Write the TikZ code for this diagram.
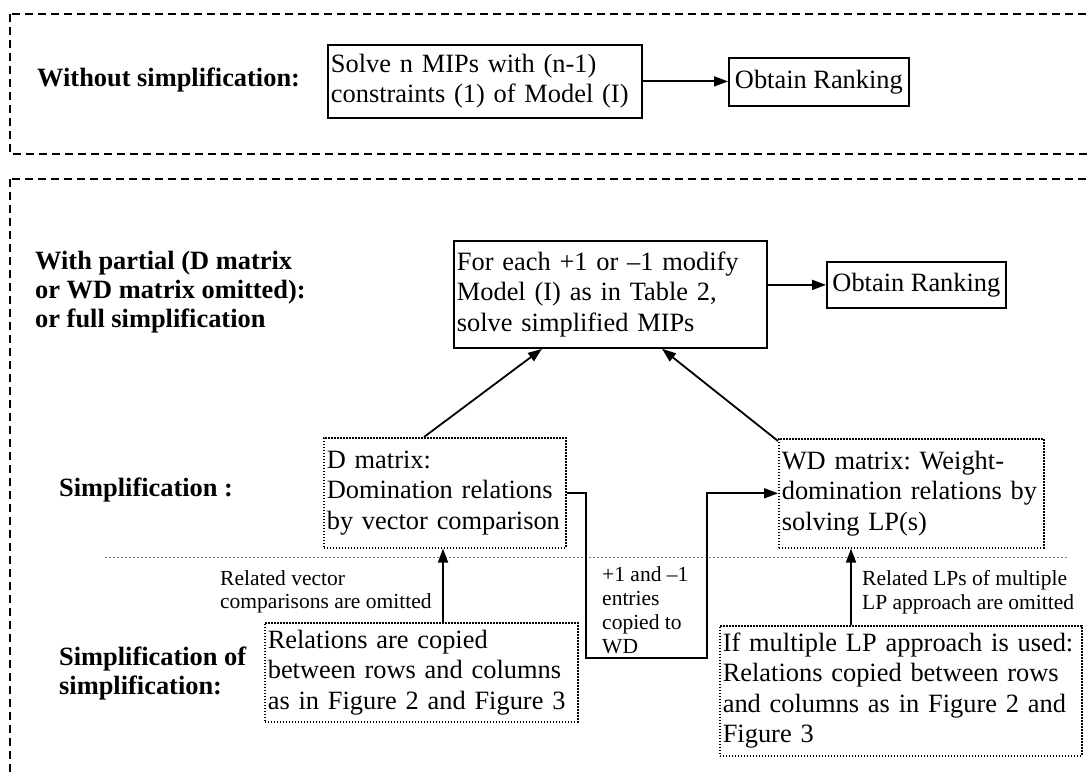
\documentclass[tikz,border=0pt]{standalone}
\usepackage{fontspec}
\setmainfont{Liberation Serif}
\usetikzlibrary{arrows.meta,calc}
\hyphenpenalty=10000
\frenchspacing
\begin{document}
\begin{tikzpicture}[x=1pt,y=-1pt,
  arr/.style={line width=1.8pt,-{Triangle[length=14pt,width=10pt]}},
  solidbox/.style={draw,line width=1.8pt,anchor=north west,inner xsep=3pt,inner ysep=0pt,align=left,font=\fontsize{26.4}{30.5}\selectfont},
  dotbox/.style={solidbox,line width=1.6pt,dash pattern=on 1.4pt off 1.6pt},
  lbl/.style={anchor=west,inner sep=0pt,align=left,font=\bfseries\fontsize{26.4}{29}\selectfont},
  small/.style={anchor=west,inner sep=0pt,align=left,font=\fontsize{21.5}{23.5}\selectfont},
  outer/.style={line width=1.4pt,dash pattern=on 8pt off 5pt},
  sep/.style={line width=0.8pt,gray,dash pattern=on 2pt off 2pt}
]
\useasboundingbox (0,0) rectangle (1088,776);
\begin{scope}
  \clip (0,0) rectangle (1088,776);
  \draw[outer] (10,14) rectangle (1110,154);
  \draw[outer] (10,179) rectangle (1110,800);
\end{scope}

% section 1
\node[lbl] (l1) at (37,80) {Without simplification:};
\node[solidbox,text width=308pt,minimum height=73pt] (b1) at (327,44)
  {Solve n MIPs with (n-1)\\constraints (1) of Model (I)};
\node[solidbox,align=center,minimum width=180pt,minimum height=48pt] (r1) at (728,57) {Obtain Ranking};
\draw[arr] (b1.east) -- (b1.east -| r1.west);

% section 2
\node[lbl] (l2) at (35,292) {With partial (D matrix\\or WD matrix omitted):\\or full simplification};
\node[solidbox,text width=307pt,minimum height=107pt] (fe) at (453,240)
  {For each +1 or –1 modify\\Model (I) as in Table 2,\\solve simplified MIPs};
\node[solidbox,align=center,minimum width=179pt,minimum height=46pt] (r2) at (826,261) {Obtain Ranking};
\draw[arr] (fe.east |- r2.west) -- (r2.west);

\node[lbl] (l3) at (59,490) {Simplification :};
\node[dotbox,text width=236pt,minimum height=110pt] (dm) at (323,437)
  {D matrix:\\Domination relations\\by vector comparison};
\node[dotbox,text width=259pt,minimum height=109pt] (wd) at (778,438)
  {WD matrix: Weight-\\domination relations by\\solving LP(s)};

\draw[sep] (105,557) -- (1067,557);

\node[lbl] (l4) at (59,674) {Simplification of\\simplification:};
\node[dotbox,text width=307pt,minimum height=99pt] (rel) at (264,622)
  {Relations are copied\\between rows and columns\\as in Figure 2 and Figure 3};
\node[dotbox,text width=356pt,minimum height=130pt] (ifm) at (719,625)
  {If multiple LP approach is used:\\Relations copied between rows\\and columns as in Figure 2 and\\Figure 3};

\node[small] (t1) at (220,592) {Related vector\\comparisons are omitted};
\node[small] (t2) at (862,592) {Related LPs of multiple\\LP approach are omitted};
\node[small,font=\fontsize{21.5}{24}\selectfont] (t3) at (602,610) {+1 and –1\\entries\\copied to\\WD};

% connectors
\draw[arr] ([xshift=101pt]dm.north west) -- ([xshift=89pt]fe.south west);
\draw[arr] ([yshift=-3pt]wd.north west) -- ([xshift=209pt]fe.south west);
\draw[arr] ([xshift=179pt]rel.north west) -- ([xshift=120pt]dm.south west);
\draw[arr] ([xshift=132pt]ifm.north west) -- ([xshift=73pt]wd.south west);
\coordinate (e1) at (586,658);
\coordinate (e2) at (707,658);
\draw[arr] (dm.east) -| (e1) -- (e2) |- (wd.west);
\end{tikzpicture}
\end{document}
